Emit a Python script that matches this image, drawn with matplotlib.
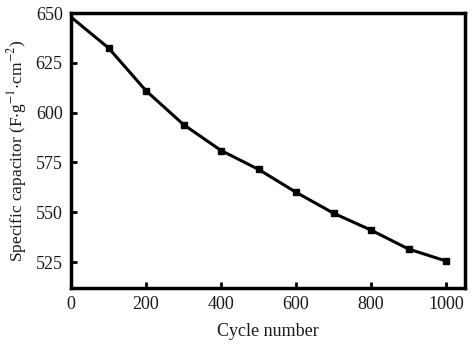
import numpy as np
import matplotlib
matplotlib.use("Agg")
import matplotlib.pyplot as plt

plt.rcParams["font.family"] = "Liberation Serif"
plt.rcParams["mathtext.fontset"] = "stix"

cycles = [0, 100, 200, 300, 400, 500, 600, 700, 800, 900, 1000]
capacitance = [648, 632.5, 611, 594, 581, 571.5, 560, 549.5, 541, 531.5, 525.5]

x_ticks = [0, 200, 400, 600, 800, 1000]
y_ticks = [525, 550, 575, 600, 625, 650]

fig = plt.figure(figsize=(4.72, 3.44), dpi=100)
ax = fig.add_axes([0.1504, 0.163, 0.8346, 0.799])

ax.plot(cycles, capacitance, color="black", linewidth=2.2)
ax.plot(cycles[1:], capacitance[1:], linestyle="none", marker="s",
        markersize=5, color="black")

ax.set_xlim(0, 1050)
ax.set_ylim(512, 650)
ax.set_xticks(x_ticks)
ax.set_yticks(y_ticks)
ax.tick_params(direction="in", length=4, width=2, labelsize=13,
               labelcolor="#1a1a1a", top=False, right=False, pad=6)

for s in ax.spines.values():
    s.set_linewidth(2.5)

ax.set_xlabel("Cycle number", fontsize=13, labelpad=7, color="#1a1a1a")
ax.set_ylabel(r"Specific capacitor (F$\cdot$g$^{-1}$$\cdot$cm$^{-2}$)",
              fontsize=12.5, labelpad=5, color="#1a1a1a")

fig.savefig("out.png", dpi=100)
